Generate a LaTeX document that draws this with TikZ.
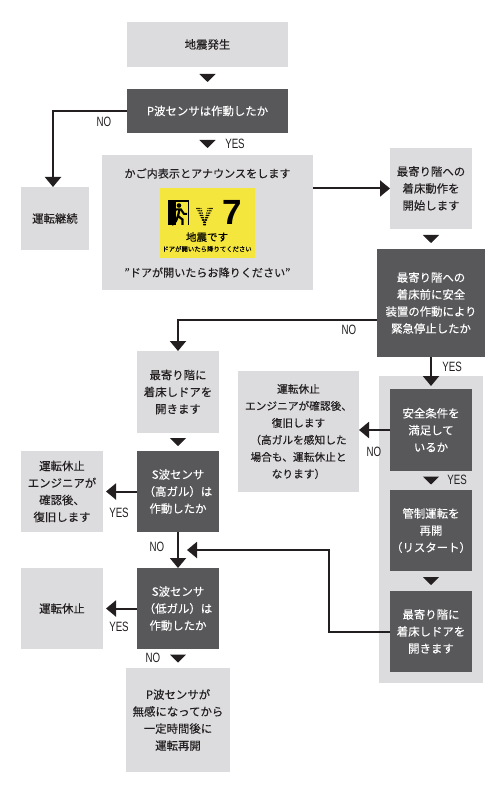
\documentclass[tikz,border=0pt]{standalone}
\usepackage{fontspec}
\setmainfont[FakeBold=0.15]{Noto Sans CJK JP}
\newfontfamily\labelfont[FakeStretch=0.72]{Liberation Sans}
\newfontfamily\signfont{Liberation Sans}
\usepackage{tikz}
\usetikzlibrary{arrows.meta, positioning, calc}
\definecolor{boxlight}{HTML}{DCDCDE}
\definecolor{boxdark}{HTML}{58585A}
\definecolor{inkblack}{HTML}{231F20}
\definecolor{signyellow}{HTML}{F4E63C}
\tikzset{
  % Flow boxes
  flowbox/.style={align=center, inner sep=0pt, outer sep=0pt, font=\fontsize{11.4}{17}\selectfont},
  lightbox/.style={flowbox, fill=boxlight, text=inkblack},
  darkbox/.style={flowbox, fill=boxdark, text=white},
  stepsquare/.style={minimum width=82pt, minimum height=81pt},
  % Pointers
  flowpointer/.style={-{Triangle[length=10pt, width=16pt]}, line width=2pt, draw=inkblack},
  gappointer/.style={-{Triangle[length=8pt, width=16pt]}, line width=1pt, draw=inkblack, shorten <=#1, shorten >=#1},
  % YES and NO
  flowlabel/.style={inner sep=0pt, text=inkblack, font=\labelfont\fontsize{13.5}{13.5}\selectfont},
}
\begin{document}
\begin{tikzpicture}[x=1pt, y=-1pt]
  \useasboundingbox (0,0) rectangle (495,791);

  % Panel behind the restart steps
  \node[lightbox, minimum width=104pt, minimum height=307pt] (panel) at (431,529.5) {};

  % Define flow nodes
  \node[lightbox, minimum width=161pt, minimum height=45pt] (quake) at (207.5,44.5) {地震発生};
  \node[darkbox, minimum width=161pt, minimum height=44pt, below=22pt of quake] (pwave) {P波センサは作動したか};
  \node[lightbox, minimum width=211pt, minimum height=135pt, below=22pt of pwave] (announce) {};
  \node[lightbox, minimum width=68pt, minimum height=63pt] (keepgoing) at (55,218.5) {運転継続};

  \node[lightbox, stepsquare] (approach) at (431,188.5) {最寄り階への\\着床動作を\\開始します};
  \node[darkbox, minimum width=108pt, minimum height=108pt, below=20pt of approach] (emergency) {最寄り階への\\着床前に安全\\装置の作動により\\緊急停止したか};

  \node[darkbox, stepsquare, minimum height=82pt] (safety) at (431,430) {安全条件を\\満足して\\いるか};
  \node[darkbox, stepsquare, below=19pt of safety] (restart) {管制運転を\\再開\\（リスタート）};
  \node[darkbox, stepsquare, below=20pt of restart] (openright) {最寄り階に\\着床しドアを\\開きます};
  \node[lightbox, minimum width=121pt, minimum height=121pt, font=\fontsize{10.7}{17}\selectfont] (engineer) at (298.5,431.5) {運転休止\\エンジニアが確認後、\\復旧します\\（高ガルを感知した\\場合も、運転休止と\\なります）};

  \node[lightbox, stepsquare, minimum height=82pt] (openleft) at (178,392) {最寄り階に\\着床しドアを\\開きます};
  \node[darkbox, stepsquare, below=18pt of openleft] (shigh) {S波センサ\\（高ガル）は\\作動したか};
  \node[darkbox, stepsquare, below=36pt of shigh] (slow) {S波センサ\\（低ガル）は\\作動したか};
  \node[lightbox, minimum width=104pt, minimum height=104pt, below=19pt of slow] (resume) {P波センサが\\無感になってから\\一定時間後に\\運転再開};
  \node[lightbox, stepsquare, left=34pt of shigh] (stophigh) {運転休止\\エンジニアが\\確認後、\\復旧します};
  \node[lightbox, stepsquare, left=34pt of slow] (stoplow) {運転休止};

  % Sign in the car
  \node[fill=signyellow, inner sep=0pt, minimum width=95pt, minimum height=70pt] (sign) at (207.5,223) {};
  \node[inner sep=0pt, text=inkblack, font=\fontsize{11.1}{11}\selectfont, above=9pt of sign] (announcetitle) {かご内表示とアナウンスをします};
  \node[inner sep=0pt, text=inkblack, font=\fontsize{11.1}{11}\selectfont, below=9pt of sign] (announcequote) {"ドアが開いたらお降りください"};
  \node[inner sep=0pt, text=black, font=\fontsize{10.5}{10.5}\selectfont] (signquake) at (207,237) {地震です};
  \node[inner sep=0pt, text=black, font=\fontsize{6.4}{6.4}\selectfont] (signdoor) at (207,249) {ドアが開いたら降りてください};
  \node[inner sep=0pt, text=black, font=\signfont\bfseries\fontsize{35}{35}\selectfont] (signseven) at (232,212.5) {7};

  % Exit mark
  \fill[black] (168,200) rectangle (189,225);
  \fill[signyellow] (175.5,202.5) rectangle (187.8,225);
  \fill[black] (179,205.5) circle (2.3);
  \draw[black, line width=2pt] (172,216) -- (176,209.5) -- (181,209.5) -- (184,214) -- (187,214);
  \draw[black, line width=2.2pt] (179.5,209.5) -- (178,216) -- (182.5,219.5) -- (182.5,225);
  \draw[black, line width=2.2pt] (178,216) -- (176,221) -- (172,225);

  % Seismic mark
  \foreach \i in {0,...,7} {
    \fill[black] (197+\i*1.1,208.5+\i*2.3) circle (0.8);
    \fill[black] (199+\i*0.9,208.5+\i*2.3) circle (0.8);
    \fill[black] (201+\i*0.6,208.5+\i*2.3) circle (0.7);
    \fill[black] (212-\i*1.1,208.5+\i*2.3) circle (0.8);
    \fill[black] (210-\i*0.9,208.5+\i*2.3) circle (0.8);
    \fill[black] (208-\i*0.6,208.5+\i*2.3) circle (0.7);
  }

  % Free ends of the bent pointer
  \coordinate (rejoin) at (187,550);
  \coordinate (bend) at (329,550);

  \draw[gappointer=7pt] (quake) -- (pwave);
  \draw[gappointer=7pt] (pwave) -- (announce);
  \draw[flowpointer] (pwave.west) -| ([xshift=-2pt]keepgoing.north);
  \draw[flowpointer] (announce.east |- approach.west) -- (approach.west);
  \draw[gappointer=6pt] (approach) -- (emergency);
  \draw[flowpointer] ([yshift=-17pt]emergency.west) -| (openleft.north);
  \draw[flowpointer, shorten >=3pt] (emergency.south) -- (safety.north);
  \draw[flowpointer] (safety.west) -- (safety.west -| engineer.east);
  \draw[gappointer=5.5pt] (safety) -- (restart);
  \draw[gappointer=6pt] (restart) -- (openright);
  \draw[flowpointer] (openright.west) -| (bend) -- (rejoin);
  \draw[gappointer=5pt] (openleft) -- (shigh);
  \draw[flowpointer] (shigh) -- (slow);
  \draw[flowpointer, shorten >=3pt] (shigh.west) -- (stophigh.east);
  \draw[flowpointer, shorten >=3pt] (slow.west) -- (stoplow.east);
  \draw[gappointer=5.5pt] (slow) -- (resume);

  % YES and NO labels
  \node[flowlabel] (nopwave) at (104,122) {NO};
  \node[flowlabel] (yespwave) at (235,143.5) {YES};
  \node[flowlabel] (noemergency) at (349,330) {NO};
  \node[flowlabel] (yesemergency) at (452,367) {YES};
  \node[flowlabel] (nosafety) at (374,452) {NO};
  \node[flowlabel] (yessafety) at (457,480) {YES};
  \node[flowlabel] (yeshigh) at (119,513) {YES};
  \node[flowlabel] (nohigh) at (157,547) {NO};
  \node[flowlabel] (yeslow) at (119,627) {YES};
  \node[flowlabel] (nolow) at (153,658) {NO};
\end{tikzpicture}
\end{document}
